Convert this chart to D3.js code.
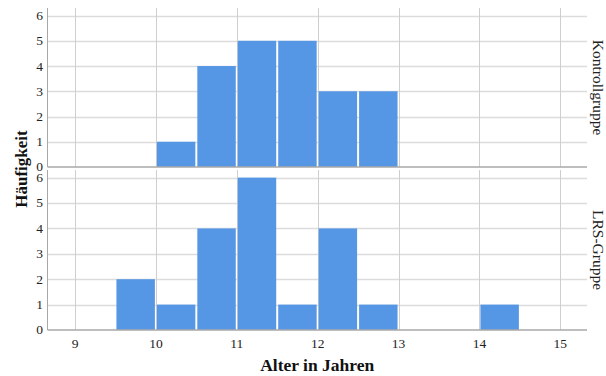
<!DOCTYPE html>
<html><head><meta charset="utf-8">
<script src="https://cdn.jsdelivr.net/npm/d3@7"></script>
<style>body{margin:0;background:#fff}svg{display:block}</style>
</head><body>
<script>
const groups = ["Kontrollgruppe", "LRS-Gruppe"];
const binStarts = [9.5, 10, 10.5, 11, 11.5, 12, 12.5, 13, 13.5, 14];
const kontrollCounts = [0, 1, 4, 5, 5, 3, 3, 0, 0, 0];
const lrsCounts = [2, 1, 4, 6, 1, 4, 1, 0, 0, 1];
const binWidth = 0.5;
const xTicks = [9, 10, 11, 12, 13, 14, 15];
const yTicks = [0, 1, 2, 3, 4, 5, 6];
const xTitle = "Alter in Jahren";
const yTitle = "Häufigkeit";

const W = 606, H = 376;
const svg = d3.select("body").append("svg").attr("width", W).attr("height", H);
const left = 47.5, right = 587;
const x = d3.scaleLinear().domain([8.66, 15.33]).range([left, right]);
const panels = [{top: 8, bottom: 167, counts: kontrollCounts}, {top: 170, bottom: 330, counts: lrsCounts}];
const serif = "'Liberation Serif','Times New Roman',serif";

panels.forEach((p, i) => {
  const y = d3.scaleLinear().domain([0, 6.3]).range([p.bottom, p.top]);
  const g = svg.append("g");
  g.selectAll("line.h").data(yTicks.filter(t => t > 0)).join("line")
    .attr("x1", left).attr("x2", right).attr("y1", d => Math.round(y(d)) + 0.5).attr("y2", d => Math.round(y(d)) + 0.5)
    .attr("stroke", "#dcdcdc").attr("stroke-width", 1.5);
  g.selectAll("line.v").data(xTicks).join("line")
    .attr("x1", d => Math.round(x(d)) + 0.5).attr("x2", d => Math.round(x(d)) + 0.5)
    .attr("y1", p.top).attr("y2", p.bottom)
    .attr("stroke", "#cfcfcf").attr("stroke-width", 1);
  const data = binStarts.map((s, k) => ({s, c: p.counts[k]})).filter(d => d.c > 0);
  g.selectAll("rect").data(data).join("rect")
    .attr("x", d => x(d.s) + 1).attr("width", d => x(d.s + binWidth) - x(d.s) - 2)
    .attr("y", d => y(d.c)).attr("height", d => p.bottom - y(d.c))
    .attr("fill", "#5597e5");
  g.append("line").attr("x1", left).attr("x2", right).attr("y1", p.bottom).attr("y2", p.bottom)
    .attr("stroke", "#a8a8a8").attr("stroke-width", 1.5);
  g.append("line").attr("x1", left).attr("x2", left).attr("y1", p.top).attr("y2", p.bottom)
    .attr("stroke", "#a8a8a8").attr("stroke-width", 1);
  g.selectAll("text.yt").data(yTicks).join("text")
    .attr("x", 43).attr("y", d => y(d)).attr("dy", "0.33em")
    .attr("text-anchor", "end").attr("font-family", serif).attr("font-size", 13.5)
    .attr("fill", "#222").text(d => d);
  const cy = (p.top + p.bottom) / 2;
  g.append("text").attr("transform", `translate(593,${cy}) rotate(90)`)
    .attr("text-anchor", "middle").attr("font-family", serif).attr("font-size", 15.5)
    .attr("fill", "#222").text(groups[i]);
});

svg.selectAll("text.xt").data(xTicks).join("text")
  .attr("x", d => x(d)).attr("y", 348).attr("text-anchor", "middle")
  .attr("font-family", serif).attr("font-size", 13.5).attr("fill", "#222").text(d => d);

svg.append("text").attr("x", (left + right) / 2).attr("y", 371).attr("text-anchor", "middle")
  .attr("font-family", serif).attr("font-size", 17.5).attr("font-weight", "bold").attr("fill", "#111").text(xTitle);
svg.append("text").attr("transform", `translate(27,169) rotate(-90)`).attr("text-anchor", "middle")
  .attr("font-family", serif).attr("font-size", 17).attr("font-weight", "bold").attr("fill", "#111").text(yTitle);
</script>
</body></html>
